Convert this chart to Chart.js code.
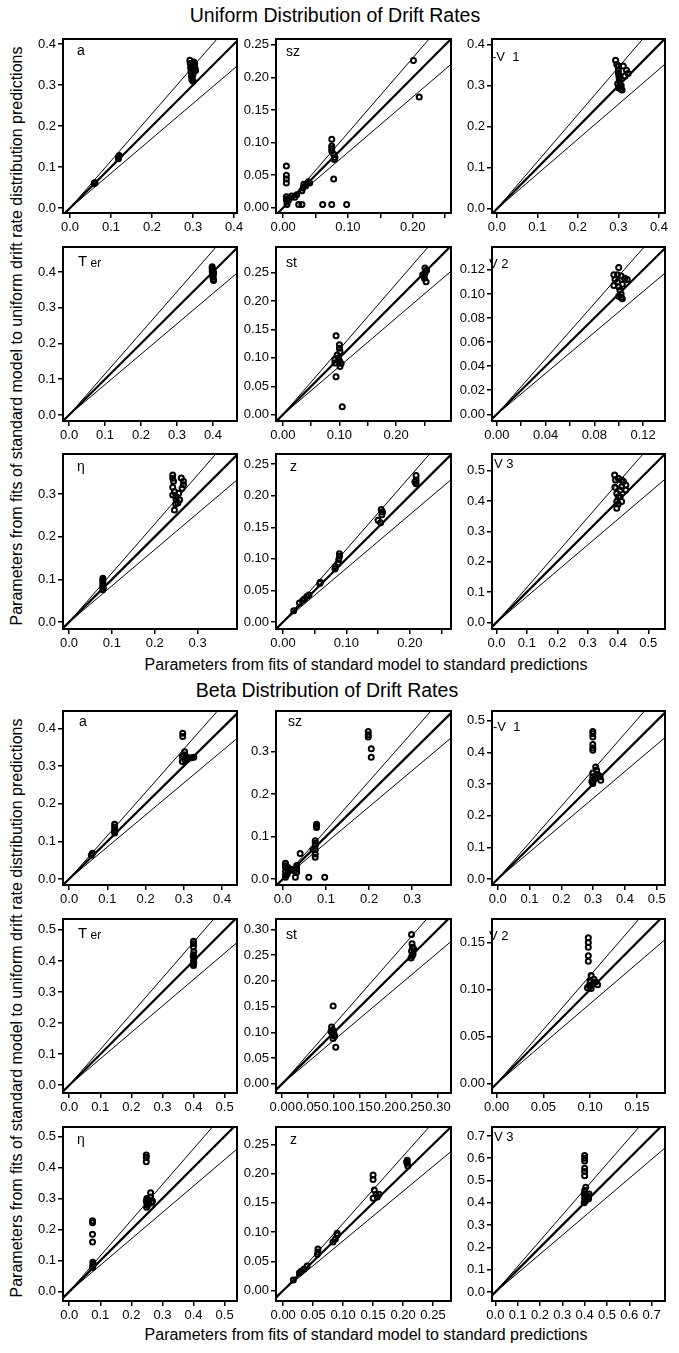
<!DOCTYPE html>
<html lang="en">
<head>
  <meta charset="UTF-8" />
  <title>Uniform and Beta Distribution of Drift Rates</title>
  <script src="https://cdn.jsdelivr.net/npm/chart.js"></script>
  <style>
    * { box-sizing: border-box; }
    body { margin: 0; background: #fff; font-family: 'Liberation Sans', Arial, sans-serif; color: #000; }
    #page { position: relative; width: 679px; height: 1353px; overflow: hidden; }
    #page canvas { position: absolute; }
    .txt { position: absolute; white-space: nowrap; transform: translate(-50%, -50%); line-height: 22px; }
    .title { font-size: 19.5px; }
    .xtitle { font-size: 16px; }
    .ytitle { font-size: 16px; transform: translate(-50%, -50%) rotate(-90deg); }
  </style>
</head>
<body>
<div id="page">
  <div class="txt title" style="left:335px; top:15px;">Uniform Distribution of Drift Rates</div>
  <div class="txt xtitle" style="left:366px; top:665px;">Parameters from fits of standard model to standard predictions</div>
  <div class="txt ytitle" style="left:17px; top:336px;">Parameters from fits of standard model to uniform drift rate distribution predictions</div>
  <div class="txt title" style="left:327px; top:690px;">Beta Distribution of Drift Rates</div>
  <div class="txt xtitle" style="left:366px; top:1335px;">Parameters from fits of standard model to standard predictions</div>
  <div class="txt ytitle" style="left:17px; top:1008px;">Parameters from fits of standard model to uniform drift rate distribution predictions</div>
</div>

<script>
  // points: [standard fit, uniform/beta fit]
  const uniA = [[0.059,0.060],[0.060,0.062],[0.061,0.061],[0.118,0.120],[0.119,0.125],[0.120,0.128],[0.118,0.123],
    [0.292,0.360],[0.293,0.352],[0.294,0.342],[0.295,0.332],[0.296,0.322],[0.297,0.313],[0.298,0.317],[0.300,0.326],
    [0.302,0.356],[0.303,0.348],[0.305,0.340],[0.306,0.335],[0.300,0.309],[0.298,0.346],[0.304,0.352],[0.299,0.338]];
  const uniSz = [[0.005,0.064],[0.005,0.050],[0.005,0.044],[0.005,0.038],[0.005,0.017],[0.005,0.013],[0.006,0.009],
    [0.006,0.005],[0.008,0.011],[0.010,0.015],[0.013,0.018],[0.018,0.016],[0.021,0.020],[0.024,0.005],[0.029,0.005],
    [0.029,0.026],[0.031,0.031],[0.032,0.036],[0.035,0.034],[0.039,0.040],[0.041,0.038],[0.061,0.005],[0.075,0.005],
    [0.098,0.005],[0.075,0.105],[0.075,0.095],[0.075,0.091],[0.075,0.087],[0.078,0.082],[0.080,0.077],[0.079,0.074],
    [0.078,0.044],[0.201,0.226],[0.210,0.170]];
  const uniV1 = [[0.293,0.362],[0.296,0.352],[0.300,0.348],[0.312,0.348],[0.320,0.338],[0.324,0.330],[0.316,0.324],
    [0.300,0.340],[0.300,0.332],[0.301,0.325],[0.302,0.318],[0.303,0.310],[0.304,0.303],[0.305,0.297],[0.306,0.292],
    [0.300,0.295],[0.298,0.305],[0.309,0.290],[0.307,0.300]];
  const uniTer = [[0.398,0.415],[0.398,0.410],[0.399,0.405],[0.400,0.400],[0.400,0.395],[0.401,0.390],[0.400,0.385],
    [0.401,0.380],[0.402,0.376],[0.399,0.392],[0.398,0.402],[0.402,0.398]];
  const uniSt = [[0.094,0.139],[0.100,0.123],[0.100,0.117],[0.101,0.111],[0.096,0.105],[0.098,0.100],[0.092,0.097],
    [0.092,0.091],[0.101,0.085],[0.094,0.067],[0.105,0.014],[0.100,0.095],[0.103,0.090],[0.251,0.258],[0.254,0.254],
    [0.251,0.249],[0.247,0.246],[0.249,0.243],[0.253,0.234],[0.250,0.240]];
  const uniV2 = [[0.100,0.122],[0.096,0.116],[0.099,0.116],[0.102,0.115],[0.105,0.113],[0.107,0.112],[0.097,0.112],
    [0.099,0.110],[0.096,0.107],[0.100,0.106],[0.103,0.108],[0.101,0.103],[0.102,0.100],[0.100,0.098],[0.102,0.097],
    [0.103,0.096]];
  const uniEta = [[0.079,0.103],[0.079,0.098],[0.079,0.094],[0.079,0.088],[0.079,0.083],[0.080,0.079],[0.079,0.076],
    [0.242,0.345],[0.242,0.337],[0.244,0.330],[0.242,0.316],[0.242,0.298],[0.246,0.306],[0.249,0.295],[0.250,0.287],
    [0.254,0.279],[0.258,0.287],[0.249,0.277],[0.246,0.263],[0.256,0.302],[0.262,0.338],[0.267,0.330],[0.267,0.322],
    [0.264,0.314]];
  const uniZ = [[0.017,0.018],[0.026,0.030],[0.031,0.034],[0.034,0.037],[0.038,0.041],[0.041,0.043],[0.058,0.061],
    [0.059,0.063],[0.082,0.084],[0.083,0.088],[0.087,0.093],[0.088,0.099],[0.089,0.104],[0.089,0.108],[0.150,0.161],
    [0.154,0.157],[0.155,0.178],[0.156,0.170],[0.157,0.174],[0.210,0.232],[0.210,0.225],[0.210,0.219],[0.208,0.222]];
  const uniV3 = [[0.389,0.486],[0.392,0.469],[0.401,0.475],[0.412,0.469],[0.418,0.464],[0.426,0.453],[0.426,0.436],
    [0.390,0.445],[0.396,0.425],[0.401,0.414],[0.396,0.398],[0.412,0.398],[0.407,0.414],[0.396,0.376],[0.407,0.436],
    [0.412,0.447],[0.401,0.390]];

  const betaA = [[0.058,0.063],[0.061,0.068],[0.119,0.145],[0.119,0.138],[0.119,0.130],[0.119,0.122],[0.120,0.126],
    [0.297,0.387],[0.297,0.378],[0.302,0.338],[0.296,0.325],[0.302,0.317],[0.306,0.325],[0.313,0.321],[0.296,0.312],
    [0.300,0.330],[0.309,0.318],[0.320,0.322],[0.326,0.323]];
  const betaSz = [[0.198,0.347],[0.198,0.339],[0.198,0.334],[0.205,0.306],[0.205,0.286],[0.078,0.129],[0.078,0.124],
    [0.078,0.121],[0.075,0.090],[0.075,0.084],[0.075,0.078],[0.075,0.069],[0.075,0.059],[0.075,0.051],[0.070,0.070],
    [0.040,0.060],[0.032,0.032],[0.032,0.025],[0.032,0.016],[0.029,0.004],[0.019,0.023],[0.012,0.027],[0.006,0.037],
    [0.006,0.031],[0.006,0.027],[0.006,0.017],[0.006,0.009],[0.006,0.004],[0.010,0.012],[0.027,0.019],[0.060,0.004],
    [0.097,0.004],[0.015,0.020]];
  const betaV1 = [[0.299,0.466],[0.299,0.459],[0.299,0.449],[0.299,0.425],[0.299,0.414],[0.299,0.407],[0.299,0.335],
    [0.299,0.323],[0.299,0.312],[0.299,0.302],[0.296,0.308],[0.308,0.354],[0.311,0.344],[0.311,0.330],[0.306,0.320],
    [0.322,0.323],[0.324,0.312],[0.317,0.328]];
  const betaTer = [[0.400,0.463],[0.400,0.455],[0.400,0.445],[0.401,0.430],[0.400,0.420],[0.402,0.410],[0.400,0.400],
    [0.401,0.395],[0.400,0.390],[0.399,0.415],[0.400,0.385]];
  const betaSt = [[0.098,0.151],[0.103,0.071],[0.095,0.110],[0.097,0.105],[0.099,0.100],[0.100,0.095],[0.096,0.098],
    [0.101,0.092],[0.098,0.088],[0.094,0.102],[0.249,0.290],[0.250,0.272],[0.251,0.265],[0.249,0.258],[0.252,0.252],
    [0.250,0.248],[0.248,0.244],[0.253,0.262]];
  const betaV2 = [[0.098,0.155],[0.098,0.150],[0.098,0.145],[0.098,0.136],[0.098,0.130],[0.101,0.115],[0.104,0.111],
    [0.100,0.108],[0.103,0.106],[0.106,0.108],[0.099,0.104],[0.101,0.101],[0.097,0.102],[0.108,0.105],[0.100,0.110]];
  const betaEta = [[0.075,0.228],[0.075,0.222],[0.075,0.185],[0.075,0.160],[0.076,0.095],[0.077,0.088],[0.076,0.082],
    [0.075,0.078],[0.248,0.440],[0.248,0.432],[0.248,0.418],[0.250,0.300],[0.248,0.292],[0.250,0.285],[0.252,0.278],
    [0.249,0.272],[0.256,0.283],[0.262,0.318],[0.262,0.305],[0.268,0.292],[0.265,0.286],[0.255,0.295]];
  const betaZ = [[0.017,0.018],[0.027,0.030],[0.030,0.033],[0.035,0.037],[0.040,0.042],[0.057,0.062],[0.058,0.066],
    [0.058,0.071],[0.083,0.083],[0.087,0.088],[0.090,0.095],[0.090,0.098],[0.150,0.198],[0.150,0.190],[0.152,0.172],
    [0.155,0.165],[0.157,0.160],[0.160,0.165],[0.150,0.158],[0.207,0.223],[0.207,0.218],[0.208,0.213],[0.206,0.220]];
  const betaV3 = [[0.400,0.612],[0.400,0.600],[0.400,0.588],[0.400,0.555],[0.400,0.540],[0.400,0.522],[0.405,0.470],
    [0.400,0.455],[0.398,0.440],[0.402,0.430],[0.400,0.420],[0.405,0.410],[0.398,0.400],[0.415,0.430],[0.420,0.440],
    [0.410,0.425],[0.418,0.418]];

  // tick values
  const t04 = [0, 0.1, 0.2, 0.3, 0.4];
  const t03 = [0, 0.1, 0.2, 0.3];
  const t05 = [0, 0.1, 0.2, 0.3, 0.4, 0.5];
  const t07 = [0, 0.1, 0.2, 0.3, 0.4, 0.5, 0.6, 0.7];
  const t025 = [0, 0.05, 0.1, 0.15, 0.2, 0.25];
  const t030 = [0, 0.05, 0.1, 0.15, 0.2, 0.25, 0.3];
  const t012 = [0, 0.02, 0.04, 0.06, 0.08, 0.1, 0.12];
  const t015 = [0, 0.05, 0.1, 0.15];
  const tEvery10 = [0, 0.1, 0.2];
  const tEvery04 = [0, 0.04, 0.08, 0.12];

  // reference lines: identity (thick) and +/- 15%
  const refSlopes = [1, 1.15, 0.85];

  const cols = [[63, 237], [276, 451], [492, 665]];
  const rows = [[39, 213], [247, 421], [454, 629], [711, 885], [919, 1093], [1127, 1301]];

  const panels = [
    { r: 0, c: 0, pts: uniA,  lab: [['a', 14]], lx: 14, ly: 12, xr: [-0.017, 0.407], yr: [-0.012, 0.412], xt: t04, yt: t04, d: 1 },
    { r: 0, c: 1, pts: uniSz, lab: [['sz', 14]], lx: 10, ly: 13, xr: [-0.011, 0.259], yr: [-0.008, 0.259], xt: t025, xl: tEvery10, yt: t025, d: 2 },
    { r: 0, c: 2, pts: uniV1, lab: [['-V  1', 13]], lx: 0, ly: 18, xr: [-0.012, 0.415], yr: [-0.010, 0.414], xt: t04, yt: t04, d: 1 },
    { r: 1, c: 0, pts: uniTer, lab: [['T', 15], [' er', 12]], lx: 15, ly: 15, xr: [-0.017, 0.467], yr: [-0.017, 0.470], xt: t04, yt: t04, d: 1 },
    { r: 1, c: 1, pts: uniSt, lab: [['st', 14]], lx: 10, ly: 16, xr: [-0.012, 0.297], yr: [-0.011, 0.295], xt: t025, xl: tEvery10, yt: t025, d: 2 },
    { r: 1, c: 2, pts: uniV2, lab: [['V 2', 13]], lx: -3, ly: 17, xr: [-0.004, 0.138], yr: [-0.0056, 0.139], xt: t012, xl: tEvery04, yt: t012, d: 2 },
    { r: 2, c: 0, pts: uniEta, lab: [['\u03b7', 14]], lx: 14, ly: 13, xr: [-0.014, 0.392], yr: [-0.016, 0.394], xt: t03, yt: t03, d: 1 },
    { r: 2, c: 1, pts: uniZ, lab: [['z', 14]], lx: 14, ly: 13, xr: [-0.011, 0.265], yr: [-0.011, 0.266], xt: t025, xl: tEvery10, yt: t025, d: 2 },
    { r: 2, c: 2, pts: uniV3, lab: [['V 3', 13]], lx: 2, ly: 10, xr: [-0.015, 0.555], yr: [-0.022, 0.555], xt: t05, yt: t05, d: 1 },

    { r: 3, c: 0, pts: betaA, lab: [['a', 14]], lx: 16, ly: 11, xr: [-0.016, 0.439], yr: [-0.016, 0.446], xt: t04, yt: t04, d: 1 },
    { r: 3, c: 1, pts: betaSz, lab: [['sz', 14]], lx: 12, ly: 11, xr: [-0.016, 0.390], yr: [-0.014, 0.395], xt: t03, yt: t03, d: 1 },
    { r: 3, c: 2, pts: betaV1, lab: [['-V  1', 13]], lx: 1, ly: 16, xr: [-0.018, 0.526], yr: [-0.019, 0.531], xt: t05, yt: t05, d: 1 },
    { r: 4, c: 0, pts: betaTer, lab: [['T', 15], [' er', 12]], lx: 15, ly: 15, xr: [-0.020, 0.540], yr: [-0.025, 0.535], xt: t05, yt: t05, d: 1 },
    { r: 4, c: 1, pts: betaSt, lab: [['st', 14]], lx: 10, ly: 16, xr: [-0.012, 0.325], yr: [-0.018, 0.320], xt: t030, yt: t030, d: 2 },
    { r: 4, c: 2, pts: betaV2, lab: [['V 2', 13]], lx: -3, ly: 17, xr: [-0.005, 0.180], yr: [-0.010, 0.175], xt: t015, yt: t015, d: 2 },
    { r: 5, c: 0, pts: betaEta, lab: [['\u03b7', 14]], lx: 14, ly: 13, xr: [-0.020, 0.540], yr: [-0.030, 0.530], xt: t05, yt: t05, d: 1 },
    { r: 5, c: 1, pts: betaZ, lab: [['z', 14]], lx: 14, ly: 13, xr: [-0.012, 0.280], yr: [-0.018, 0.280], xt: t025, yt: t025, d: 2 },
    { r: 5, c: 2, pts: betaV3, lab: [['V 3', 13]], lx: 2, ly: 10, xr: [-0.015, 0.760], yr: [-0.040, 0.740], xt: t07, yt: t07, d: 1 }
  ];

  const FONT = "'Liberation Sans', Arial, sans-serif";
  const Y_W = 40, X_H = 28;
  const PAD = { left: 4, right: 14, top: 8, bottom: 2 };

  // box around the plot and the panel name
  const framePlugin = {
    id: 'frame',
    afterDatasetsDraw(chart, args, opts) {
      const { ctx, chartArea: a } = chart;
      ctx.save();
      ctx.strokeStyle = '#000';
      ctx.lineWidth = 2;
      ctx.strokeRect(a.left, a.top, a.right - a.left, a.bottom - a.top);
      ctx.fillStyle = '#000';
      ctx.textBaseline = 'middle';
      let x = a.left + opts.dx;
      opts.parts.forEach(([s, size]) => {
        ctx.font = size + 'px ' + FONT;
        ctx.fillText(s, x, a.top + opts.dy + (size < 13 ? 2 : 0));
        x += ctx.measureText(s).width;
      });
      ctx.restore();
    }
  };

  function axis(range, ticks, labeled, dec, isX) {
    return {
      type: 'linear',
      min: range[0],
      max: range[1],
      grid: { display: true, drawOnChartArea: false, drawTicks: true, tickLength: 5, color: '#000', lineWidth: 1.5 },
      border: { display: false },
      ticks: {
        autoSkip: false,
        maxRotation: 0,
        padding: 2,
        color: '#000',
        font: { size: 13, family: FONT },
        callback: v => labeled.some(q => Math.abs(q - v) < 1e-9) ? v.toFixed(dec) : ''
      },
      afterBuildTicks: s => { s.ticks = ticks.map(v => ({ value: v })); },
      afterFit: s => {
        if (isX) s.height = X_H; else s.width = Y_W;
        s.paddingLeft = 0; s.paddingRight = 0; s.paddingTop = 0; s.paddingBottom = 0;
      }
    };
  }

  const page = document.getElementById('page');

  panels.forEach(p => {
    const [l, r] = cols[p.c];
    const [t, b] = rows[p.r];
    const cv = document.createElement('canvas');
    cv.width = (r - l) + PAD.left + Y_W + PAD.right;
    cv.height = (b - t) + PAD.top + X_H + PAD.bottom;
    cv.style.left = (l - PAD.left - Y_W) + 'px';
    cv.style.top = (t - PAD.top) + 'px';
    page.appendChild(cv);

    const lines = refSlopes.map(k => ({
      data: [{ x: p.xr[0], y: p.xr[0] * k }, { x: p.xr[1], y: p.xr[1] * k }],
      showLine: true,
      pointRadius: 0,
      borderColor: '#000',
      borderWidth: k === 1 ? 2.2 : 1
    }));

    new Chart(cv, {
      type: 'scatter',
      data: {
        datasets: [{
          data: p.pts.map(([x, y]) => ({ x, y })),
          pointRadius: 2.5,
          pointBorderWidth: 2,
          pointBorderColor: '#000',
          pointBackgroundColor: 'rgba(0,0,0,0)'
        }].concat(lines)
      },
      options: {
        responsive: false,
        animation: false,
        devicePixelRatio: 1,
        layout: { padding: PAD },
        plugins: {
          legend: { display: false },
          tooltip: { enabled: false },
          frame: { parts: p.lab, dx: p.lx, dy: p.ly }
        },
        scales: {
          x: axis(p.xr, p.xt, p.xl || p.xt, p.d, true),
          y: axis(p.yr, p.yt, p.yl || p.yt, p.d, false)
        }
      },
      plugins: [framePlugin]
    });
  });
</script>
</body>
</html>
